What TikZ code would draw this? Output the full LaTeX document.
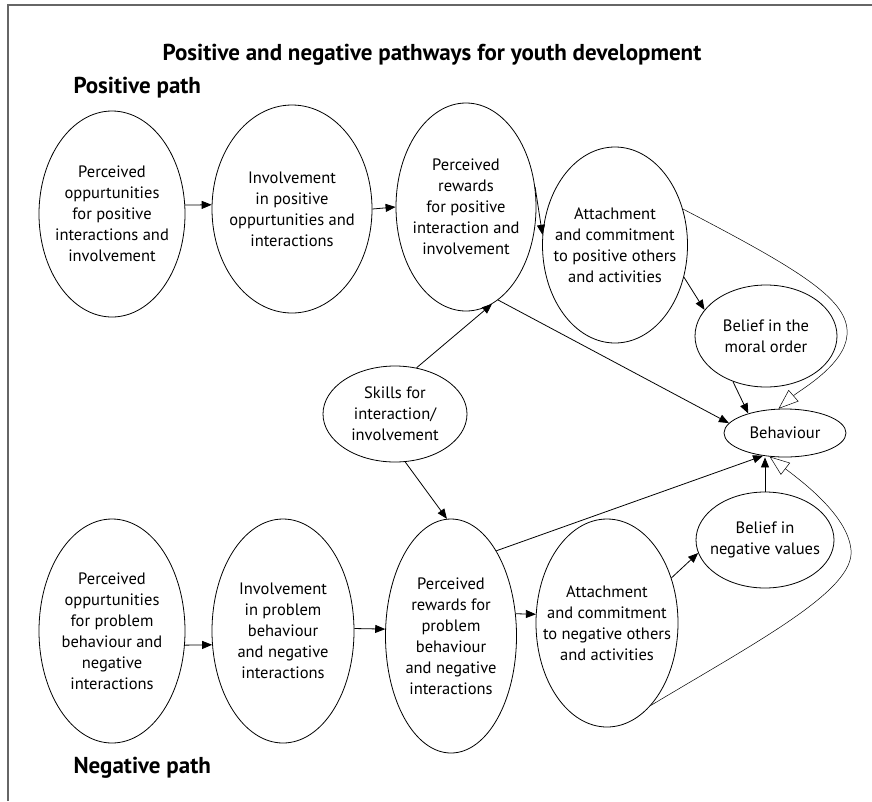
\documentclass[tikz,border=0pt]{standalone}
\usepackage{fontspec}
\setmainfont{PT Sans}
\usetikzlibrary{shapes.geometric}
\usetikzlibrary{arrows.meta}
\usetikzlibrary{positioning}

\begin{document}
\begin{tikzpicture}[x=1pt,y=-1pt,
	oval/.style={draw,ellipse,inner sep=-20pt,align=center,line width=0.8pt,
		font=\fontsize{16.5}{21}\selectfont},
	arr/.style={-{Triangle[length=10pt,width=8pt]},line width=0.8pt},
	openarr/.style={-{Triangle[open,length=20pt,width=15pt]},line width=0.5pt},
	heading/.style={font=\bfseries\fontsize{23}{27}\selectfont}]
	\useasboundingbox (0,0) rectangle (872,801);
	\draw[line width=1.6pt,black!60] (8,801)--(8,5)--(872,5);
	\node[heading] (title) at (432,55) {Positive and negative pathways for youth development};
	\node[heading,anchor=west] (pospath) at (70,88) {Positive path};
	\node[heading,anchor=west] (negpath) at (70,768) {Negative path};
	% positive path
	\node[oval,minimum width=146pt,minimum height=206pt] (pp1) at (112,214) {Perceived\\oppurtunities\\for positive\\interactions and\\involvement};
	\node[oval,minimum width=160pt,minimum height=208pt] (pp2) at (292,209) {Involvement\\in positive\\oppurtunities and\\interactions};
	\node[oval,minimum width=140pt,minimum height=208pt] (pp3) at (466,207) {Perceived\\rewards\\for positive\\interaction and\\involvement};
	\node[oval,minimum width=145pt,minimum height=196pt] (pp4) at (615,245) {Attachment\\and commitment\\to positive others\\and activities};
	\node[oval,minimum width=142pt,minimum height=102pt] (moral) at (766,336) {Belief in the\\moral order};
	\node[oval,minimum width=122pt,minimum height=48pt] (beh) at (785,433) {Behaviour};
	\node[oval,minimum width=144pt,minimum height=96pt] (skills) at (395,414) {Skills for\\interaction/\\involvement};
	% negative path
	\node[oval,minimum width=146pt,minimum height=224pt] (np1) at (112,631) {Perceived\\oppurtunities\\for problem\\behaviour and\\negative\\interactions};
	\node[oval,minimum width=142pt,minimum height=224pt] (np2) at (283,631) {Involvement\\in problem\\behaviour\\and negative\\interactions};
	\node[oval,minimum width=131pt,minimum height=234pt] (np3) at (451,636) {Perceived\\rewards for\\problem\\behaviour\\and negative\\interactions};
	\node[oval,minimum width=142pt,minimum height=208pt] (np4) at (607,623) {Attachment\\and commitment\\to negative others\\and activities};
	\node[oval,minimum width=138pt,minimum height=96pt] (neg) at (765,540) {Belief in\\negative values};
	\draw[arr] (pp1.7) -- (pp2.177);
	\draw[arr] (pp2.east) -- (pp3.west);
	\draw[arr] (pp3.16) -- (pp4.172);
	\draw[arr] (pp4.-25) -- (moral.157);
	\draw[arr] (moral.234) -- (beh.152);
	\draw[arr] (pp3.-71) -- (beh.170);
	\draw[arr] (skills.65) -- (pp3.-75);
	\draw[arr] (skills.-78) -- (np3.92);
	\draw[arr] (np1.-11) -- (np2.191);
	\draw[arr] (np2.2) -- (np3.174);
	\draw[arr] (np3.19) -- (np4.173);
	\draw[arr] (np4.35) -- (neg.191);
	\draw[arr] (neg.north) -- (neg.north |- beh.south);
	\draw[arr] (np3.62) -- (beh.226);
	\draw[openarr] (pp4.28) .. controls (800,270) and (850,300) .. (847,335) .. controls (845,365) and (800,390) .. (beh.105);
	\draw[openarr] (np4.-62) .. controls (760,640) and (855,590) .. (851,550) .. controls (848,515) and (800,480) .. (beh.237);
\end{tikzpicture}
\end{document}
